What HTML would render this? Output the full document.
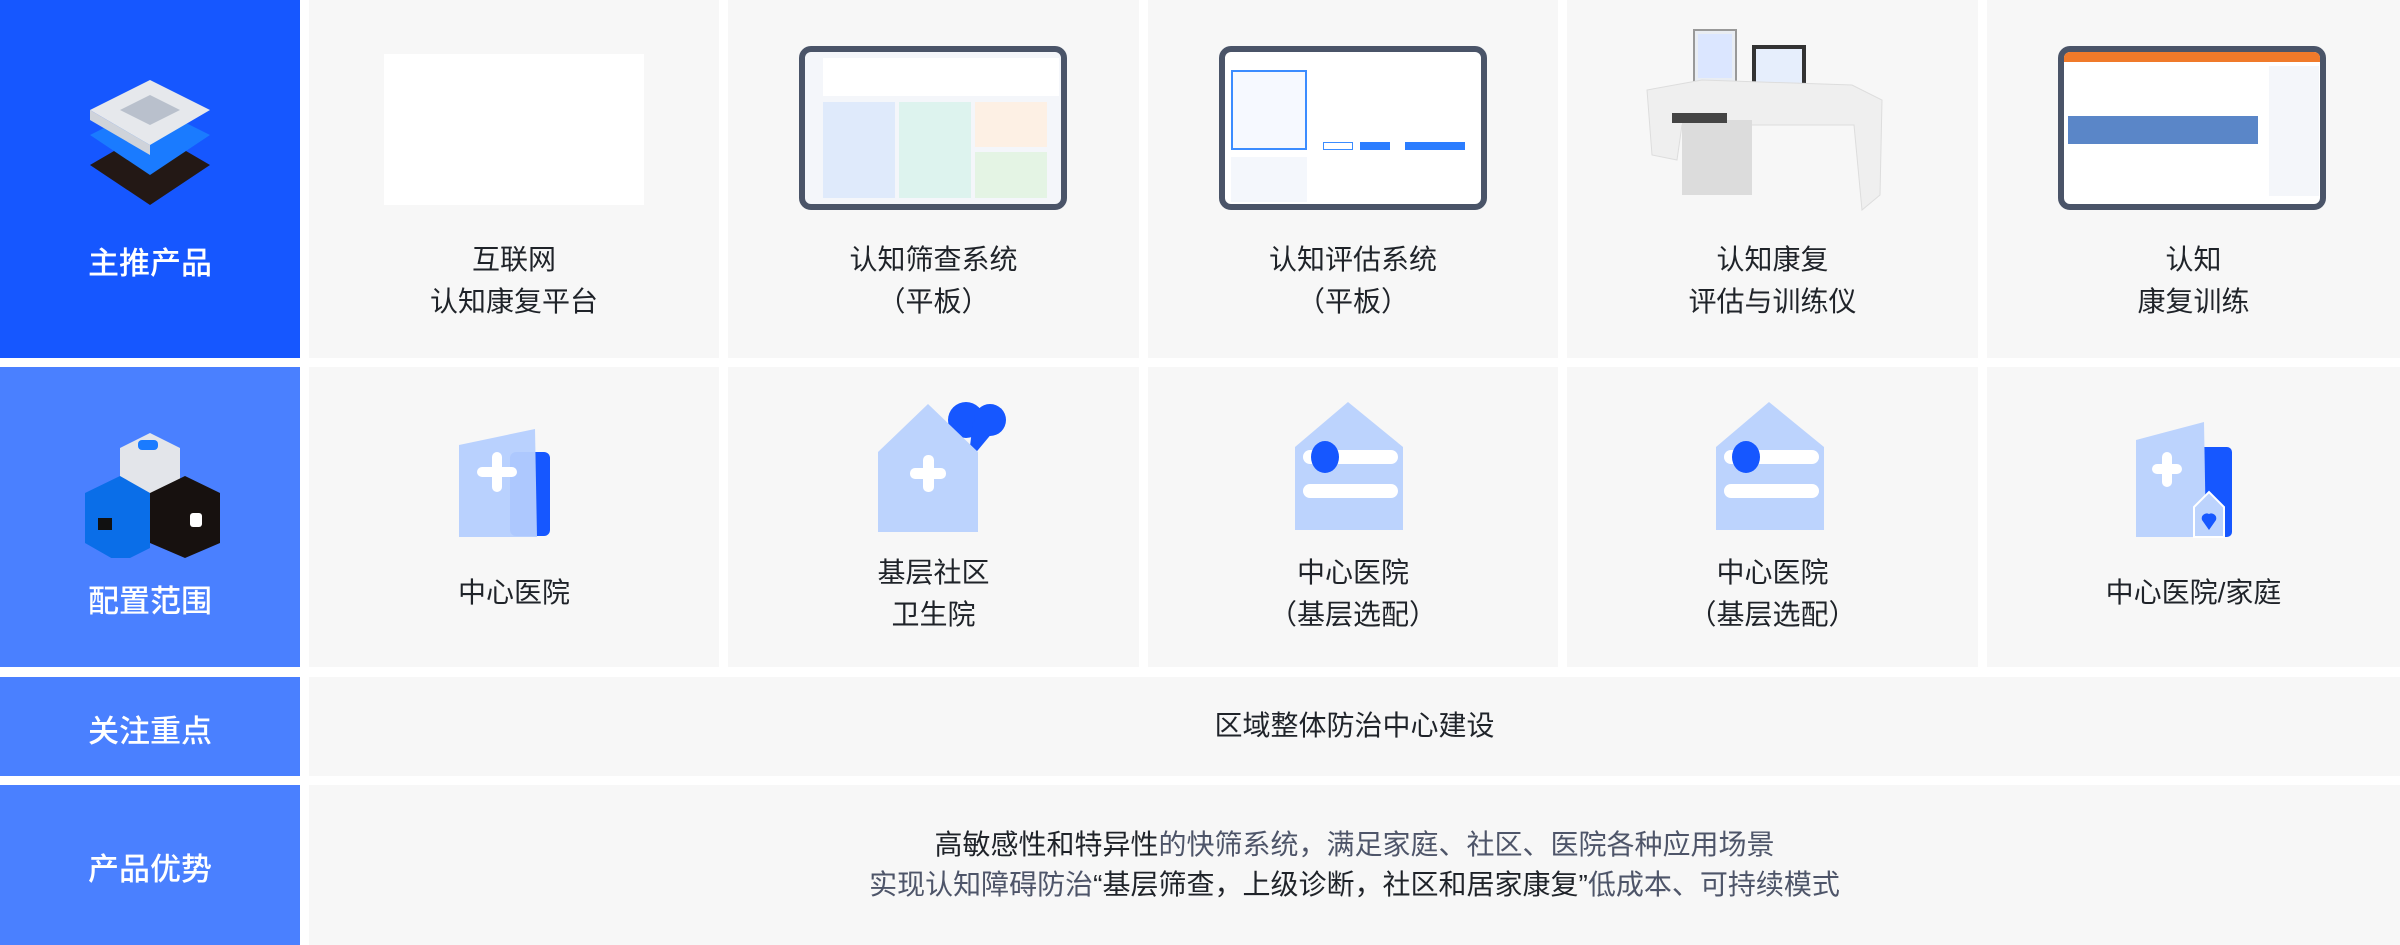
<!DOCTYPE html>
<html><head><meta charset="utf-8"><style>
*{margin:0;padding:0;box-sizing:border-box}
body{width:2400px;height:945px;background:#fff;position:relative;overflow:hidden;font-family:"Liberation Sans","Noto Sans CJK SC",sans-serif}
.c{position:absolute;background:#f7f7f7}
.l{position:absolute;color:#fff;font-size:31px;text-align:center;width:300px;left:0;font-weight:500}
.t{position:absolute;color:#1f2329;font-size:28px;line-height:42px;text-align:center;width:100%;left:0}
.tab{position:absolute;border:6px solid #4a5468;border-radius:12px;background:#f4f6fa;overflow:hidden}
.d{color:#1f2329}.g{color:#4e5569}
</style></head><body>
<div style="position:absolute;left:0;top:0;width:300px;height:358px;background:#1657ff"></div>
<div style="position:absolute;left:0;top:367px;width:300px;height:300px;background:#4a80ff"></div>
<div style="position:absolute;left:0;top:677px;width:300px;height:99px;background:#4a80ff"></div>
<div style="position:absolute;left:0;top:785px;width:300px;height:160px;background:#4a80ff"></div>
<div class="l" style="top:238px">主推产品</div>
<div class="l" style="top:576px">配置范围</div>
<div class="l" style="top:706px">关注重点</div>
<div class="l" style="top:844px">产品优势</div>
<svg style="position:absolute;left:85px;top:80px" width="130" height="130" viewBox="0 0 130 130">
<polygon points="5,85 65,50 125,85 65,125" fill="#231815"/>
<polygon points="5,55 65,25 125,55 65,95" fill="#1a7bff"/>
<polygon points="5,30 65,0 125,30 65,65" fill="#e6e8ec"/>
<polygon points="5,30 65,65 65,75 5,40" fill="#cfd3da"/>
<polygon points="35,30 65,15 95,30 65,45" fill="#b9c0cc"/>
</svg>
<svg style="position:absolute;left:80px;top:418px" width="140" height="140" viewBox="0 0 140 140">
<polygon points="40,30 70,15 100,30 100,80 70,95 40,80" fill="#e3e5ea"/>
<polygon points="5,75 40,58 70,75 70,130 40,145 5,125" fill="#0a6ee8"/>
<polygon points="70,75 105,58 140,75 140,125 105,140 70,125" fill="#17110f"/>
<rect x="58" y="22" width="20" height="10" rx="4" fill="#1a7bff"/>
<rect x="18" y="100" width="14" height="12" fill="#111"/>
<rect x="110" y="95" width="12" height="14" rx="3" fill="#fff"/>
</svg>
<div class="c" style="left:309px;top:0;width:410px;height:358px">
 <div style="position:absolute;left:75px;top:54px;width:260px;height:151px;background:#fff"></div>
 <div class="t" style="top:239px">互联网<br>认知康复平台</div></div>
<div class="c" style="left:728px;top:0;width:411px;height:358px">
 <div class="tab" style="left:71px;top:46px;width:268px;height:164px">
  <div style="position:absolute;left:18px;top:6px;width:236px;height:38px;background:#fff"></div>
  <div style="position:absolute;left:18px;top:50px;width:72px;height:96px;background:#dfeafb"></div>
  <div style="position:absolute;left:94px;top:50px;width:72px;height:96px;background:#ddf3ee"></div>
  <div style="position:absolute;left:170px;top:50px;width:72px;height:45px;background:#fdf0e4"></div>
  <div style="position:absolute;left:170px;top:100px;width:72px;height:46px;background:#e4f4e4"></div>
 </div>
 <div class="t" style="top:239px">认知筛查系统<br>（平板）</div></div>
<div class="c" style="left:1148px;top:0;width:410px;height:358px">
 <div class="tab" style="left:71px;top:46px;width:268px;height:164px;background:#fff">
  <div style="position:absolute;left:6px;top:18px;width:76px;height:80px;border:2px solid #3b8cff;background:#f6f9ff"></div>
  <div style="position:absolute;left:6px;top:105px;width:76px;height:45px;background:#f4f7fc"></div>
  <div style="position:absolute;left:98px;top:90px;width:30px;height:8px;background:#fff;border:1px solid #3b8cff"></div>
  <div style="position:absolute;left:135px;top:90px;width:30px;height:8px;background:#2b7dff"></div>
  <div style="position:absolute;left:180px;top:90px;width:60px;height:8px;background:#2b7dff"></div>
 </div>
 <div class="t" style="top:239px">认知评估系统<br>（平板）</div></div>
<div class="c" style="left:1567px;top:0;width:411px;height:358px">
 <svg style="position:absolute;left:75px;top:25px" width="260" height="205" viewBox="0 0 260 205">
  <rect x="52" y="5" width="42" height="55" fill="#e9edf3" stroke="#999" stroke-width="2"/><rect x="56" y="9" width="34" height="44" fill="#dbe6ff"/>
  <rect x="110" y="20" width="54" height="45" fill="#333"/><rect x="114" y="24" width="46" height="37" fill="#e6eefc"/>
  <path d="M5,65 L60,55 L210,60 L240,75 L238,170 L220,185 L212,100 L40,100 L35,135 L10,130Z" fill="#efefef" stroke="#ddd"/>
  <rect x="40" y="95" width="70" height="75" fill="#dcdcdc"/>
  <rect x="30" y="88" width="55" height="10" fill="#444"/>
 </svg>
 <div class="t" style="top:239px">认知康复<br>评估与训练仪</div></div>
<div class="c" style="left:1987px;top:0;width:413px;height:358px">
 <div class="tab" style="left:71px;top:46px;width:268px;height:164px;background:#fff">
  <div style="position:absolute;left:0;top:0;width:100%;height:10px;background:#f07a2a"></div>
  <div style="position:absolute;left:4px;top:64px;width:190px;height:28px;background:#5a86c8"></div>
  <div style="position:absolute;left:205px;top:14px;width:50px;height:130px;background:#f4f6fa"></div>
 </div>
 <div class="t" style="top:239px">认知<br>康复训练</div></div>
<div class="c" style="left:309px;top:367px;width:410px;height:300px">
 <svg style="position:absolute;left:146px;top:60px" width="120" height="120" viewBox="0 0 120 120"><rect x="55" y="25" width="40" height="84" rx="6" fill="#1657ff"/><path d="M4,18 L80,2 L82,110 L4,110Z" fill="#b5cffe" opacity=".95"/><rect x="22" y="40" width="40" height="10" rx="5" fill="#fff"/><rect x="37" y="25" width="10" height="40" rx="5" fill="#fff"/></svg>
 <div class="t" style="top:205px">中心医院</div></div>
<div class="c" style="left:728px;top:367px;width:411px;height:300px">
 <svg style="position:absolute;left:140px;top:35px" width="140" height="135" viewBox="0 0 140 135"><circle cx="98" cy="18" r="18" fill="#1657ff"/><circle cx="122" cy="18" r="16" fill="#1657ff"/><path d="M105,20 L125,30 L100,60Z" fill="#1657ff"/><path d="M10,50 L60,2 L110,50 L110,130 L10,130Z" fill="#bcd3fd"/><rect x="42" y="66" width="36" height="11" rx="5" fill="#fff"/><rect x="55" y="53" width="11" height="37" rx="5" fill="#fff"/></svg>
 <div class="t" style="top:185px">基层社区<br>卫生院</div></div>
<div class="c" style="left:1148px;top:367px;width:410px;height:300px">
 <svg style="position:absolute;left:145px;top:35px" width="120" height="130" viewBox="0 0 120 130"><path d="M2,45 L55,0 L110,45 L110,128 L2,128Z" fill="#bcd3fd"/><rect x="10" y="48" width="95" height="14" rx="7" fill="#fff"/><rect x="10" y="82" width="95" height="14" rx="7" fill="#fff"/><ellipse cx="32" cy="55" rx="14" ry="16" fill="#1657ff"/></svg>
 <div class="t" style="top:185px">中心医院<br>（基层选配）</div></div>
<div class="c" style="left:1567px;top:367px;width:411px;height:300px">
 <svg style="position:absolute;left:147px;top:35px" width="120" height="130" viewBox="0 0 120 130"><path d="M2,45 L55,0 L110,45 L110,128 L2,128Z" fill="#bcd3fd"/><rect x="10" y="48" width="95" height="14" rx="7" fill="#fff"/><rect x="10" y="82" width="95" height="14" rx="7" fill="#fff"/><ellipse cx="32" cy="55" rx="14" ry="16" fill="#1657ff"/></svg>
 <div class="t" style="top:185px">中心医院<br>（基层选配）</div></div>
<div class="c" style="left:1987px;top:367px;width:413px;height:300px">
 <svg style="position:absolute;left:147px;top:55px" width="120" height="125" viewBox="0 0 120 125"><rect x="60" y="25" width="38" height="90" rx="5" fill="#1657ff"/><path d="M2,18 L70,0 L72,115 L2,115Z" fill="#bcd3fd"/><rect x="18" y="42" width="30" height="10" rx="5" fill="#fff"/><rect x="28" y="30" width="10" height="35" rx="5" fill="#fff"/><path d="M60,85 L75,70 L90,85 L90,115 L60,115Z" fill="#bcd3fd" stroke="#fff" stroke-width="2"/><path d="M75,108 L68,98 A5,5 0 0 1 75,92 A5,5 0 0 1 82,98Z" fill="#1657ff"/></svg>
 <div class="t" style="top:205px">中心医院/家庭</div></div>
<div class="c" style="left:309px;top:677px;width:2091px;height:99px"><div class="t" style="top:28px">区域整体防治中心建设</div></div>
<div class="c" style="left:309px;top:785px;width:2091px;height:160px">
 <div class="t" style="top:39px;font-size:28px"><span class="d">高敏感性和特异性</span><span class="g">的快筛系统，满足家庭、社区、医院各种应用场景</span></div>
 <div class="t" style="top:79px;font-size:28px"><span class="g">实现认知障碍防治</span><span class="d">“基层筛查，上级诊断，社区和居家康复”</span><span class="g">低成本、可持续模式</span></div>
</div>
</body></html>
